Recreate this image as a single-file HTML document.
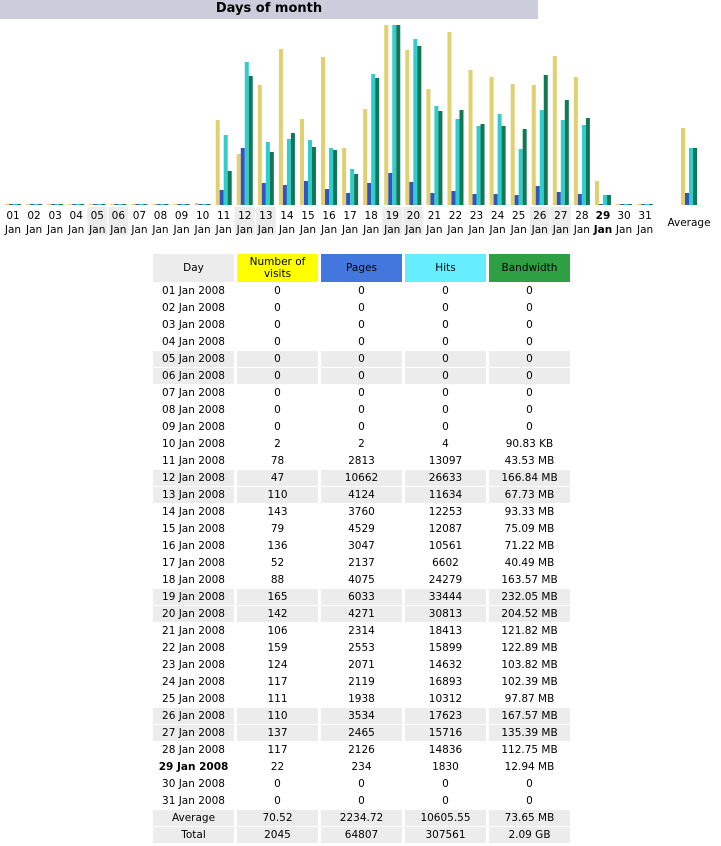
<!DOCTYPE html>
<html><head><meta charset="utf-8"><style>
body{margin:0;width:721px;height:846px;background:#fff;font-family:"DejaVu Sans","Liberation Sans",sans-serif;position:relative;overflow:hidden}
#title{position:absolute;left:0;top:0;width:538px;height:19px;background:#ccccdd;font:bold 13px "DejaVu Sans",sans-serif;text-align:center;line-height:17px}
#chart{position:absolute;left:0;top:0}
table{position:absolute;left:150px;top:253px;border-collapse:separate;border-spacing:3px 1px;font-size:10.5px;color:#000}
td{height:16px;padding:0;text-align:center;width:81px;white-space:nowrap}
th{height:28px;font-weight:normal;font-size:10.5px;line-height:12px;padding:0;width:81px}
tr.we td{background:#ececec}
</style></head><body>
<div id="title">Days of month</div>
<svg id="chart" width="721" height="240"></svg>
<table id="tbl">
<tr><th style="background:#ececec">Day</th><th style="background:#ffff00">Number of<br>visits</th><th style="background:#4477dd">Pages</th><th style="background:#66eeff">Hits</th><th style="background:#2ea043">Bandwidth</th></tr>
</table>
<script>
const days=["01","02","03","04","05","06","07","08","09","10","11","12","13","14","15","16","17","18","19","20","21","22","23","24","25","26","27","28","29","30","31"];
const weekend=[5,6,12,13,19,20,26,27];
const visits=[0,0,0,0,0,0,0,0,0,2,78,47,110,143,79,136,52,88,165,142,106,159,124,117,111,110,137,117,22,0,0];
const pages=[0,0,0,0,0,0,0,0,0,2,2813,10662,4124,3760,4529,3047,2137,4075,6033,4271,2314,2553,2071,2119,1938,3534,2465,2126,234,0,0];
const hits=[0,0,0,0,0,0,0,0,0,4,13097,26633,11634,12253,12087,10561,6602,24279,33444,30813,18413,15899,14632,16893,10312,17623,15716,14836,1830,0,0];
const bwMB=[0,0,0,0,0,0,0,0,0,0.0887,43.53,166.84,67.73,93.33,75.09,71.22,40.49,163.57,232.05,204.52,121.82,122.89,103.82,102.39,97.87,167.57,135.39,112.75,12.94,0,0];
const bwText=["0","0","0","0","0","0","0","0","0","90.83 KB","43.53 MB","166.84 MB","67.73 MB","93.33 MB","75.09 MB","71.22 MB","40.49 MB","163.57 MB","232.05 MB","204.52 MB","121.82 MB","122.89 MB","103.82 MB","102.39 MB","97.87 MB","167.57 MB","135.39 MB","112.75 MB","12.94 MB","0","0"];
const avg=[70.52,2234.72,10605.55,73.65];
const avgText=["70.52","2234.72","10605.55","73.65 MB"];
const totText=["2045","64807","307561","2.09 GB"];
const today=29;
const NS="http://www.w3.org/2000/svg";
const svg=document.getElementById('chart');
const base=205,H=180;
const maxV=Math.max(...visits),maxH=Math.max(...hits),maxB=Math.max(...bwMB);
const colors=["#e0d070","#3355bb","#33cccc","#117755"];
function xc(i){return 13+21.07*i;}
function hgt(v,m){return Math.max(1,Math.round(v/m*H));}
function bars(cx,vals,name){
  const scales=[maxV,maxH,maxH,maxB];
  vals.forEach((v,k)=>{
    const h=hgt(v,scales[k]);
    const r=document.createElementNS(NS,'rect');
    r.setAttribute('x',cx-8+k*4);r.setAttribute('y',base-h);r.setAttribute('width',4);r.setAttribute('height',h);
    r.setAttribute('fill',colors[k]);
    
    
    svg.appendChild(r);
  });
}
function txt(x,y,s,bold){
  const t=document.createElementNS(NS,'text');
  t.setAttribute('x',x);t.setAttribute('y',y);t.setAttribute('text-anchor','middle');
  t.setAttribute('font-size','10.5');t.setAttribute('font-family','DejaVu Sans, sans-serif');
  if(bold)t.setAttribute('font-weight','bold');
  t.textContent=s;
  
  
  svg.appendChild(t);
}
days.forEach((d,i)=>{
  const cx=xc(i),n=i+1;
  if(weekend.includes(n)){
    const r=document.createElementNS(NS,'rect');
    r.setAttribute('x',cx-10);r.setAttribute('y',207);r.setAttribute('width',20);r.setAttribute('height',28);r.setAttribute('fill','#ececec');
    
    
    svg.appendChild(r);
  }
  bars(cx,[visits[i],pages[i],hits[i],bwMB[i]],'bar-day'+d);
  txt(cx,219,d,n===today);txt(cx,233,'Jan',n===today);
});
bars(689,avg,'bar-average');
txt(689,226,'Average');
const tbl=document.getElementById('tbl');
function row(cells,we,bold,name){
  const tr=document.createElement('tr');if(we)tr.className='we';
  
  
  cells.forEach((c,k)=>{const td=document.createElement('td');td.textContent=c;if(bold&&k===0)td.style.fontWeight='bold';tr.appendChild(td);});
  tbl.appendChild(tr);
}
days.forEach((d,i)=>{const n=i+1;row([d+' Jan 2008',visits[i],pages[i],hits[i],bwText[i]],weekend.includes(n),n===today,'row-day'+d);});
row(['Average'].concat(avgText),true,false,'row-average');
row(['Total'].concat(totText),true,false,'row-total');
</script>
</body></html>
